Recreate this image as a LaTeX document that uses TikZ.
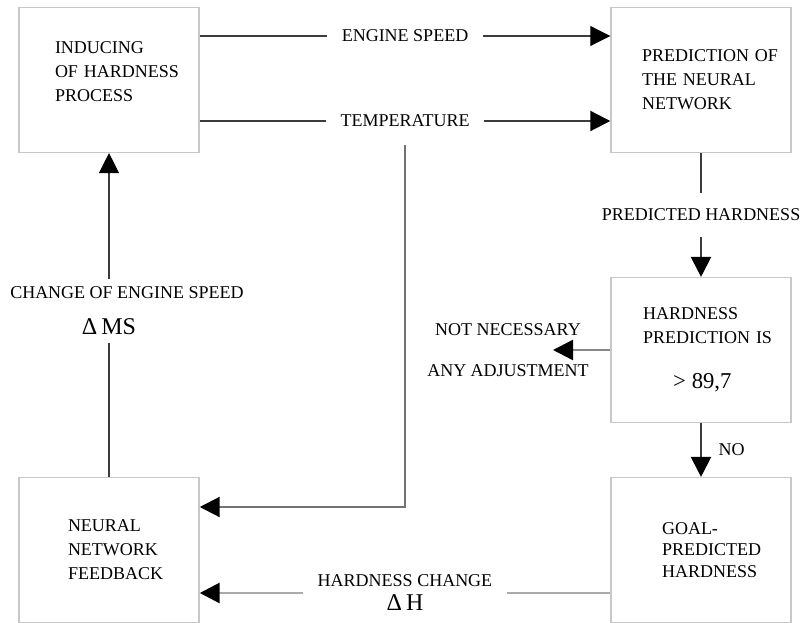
\documentclass[tikz,border=0pt]{standalone}
\usepackage{fontspec}
\setmainfont{Liberation Serif}
\usetikzlibrary{arrows.meta, calc}
\definecolor{boxgray}{RGB}{200,200,200}
\definecolor{darkline}{RGB}{60,60,60}
\definecolor{midline}{RGB}{115,115,115}
\definecolor{paleline}{RGB}{170,170,170}

\newcommand{\bigsym}[1]{{\fontsize{18pt}{18pt}\selectfont #1}}

\begin{document}
\begin{tikzpicture}[
  x=0.75pt, y=-0.75pt,
  font={\fontsize{13.5pt}{18pt}\selectfont},
  box/.style={draw=boxgray, line width=1.1pt, minimum width=135pt,
    minimum height=108.5pt, align=left},
  lbl/.style={fill=white, text=black, inner xsep=11pt, inner ysep=3pt},
  arw/.style={-{Triangle[length=15pt, width=15pt, color=black]}},
  thinln/.style={draw=darkline, line width=0.8pt},
  thickln/.style={draw=darkline, line width=1.6pt},
]
\useasboundingbox (0,0) rectangle (805,623);

% Blocks
\node[box, text width=81pt] (ind) at (109,80) {\mbox{INDUCING}\\\mbox{OF HARDNESS}\\\mbox{PROCESS}\\[-6pt]\mbox{}};
\node[box, text width=88.5pt] (pred) at (701,80) {\mbox{PREDICTION OF}\\\mbox{THE NEURAL}\\\mbox{NETWORK}};
\node[box, text width=87pt] (hp) at (701,350) {\mbox{HARDNESS}\\\mbox{PREDICTION IS}\\[16pt]\hspace*{22.5pt}\mbox{\fontsize{17pt}{18pt}\selectfont > 89,7}};
\node[box, text width=58.5pt] (goal) at (701,550) {\mbox{GOAL-}\\[-2pt]\mbox{PREDICTED}\\[-2pt]\mbox{HARDNESS}};
\node[box, text width=61.5pt] (fb) at (109,550) {\mbox{NEURAL}\\\mbox{NETWORK}\\\mbox{FEEDBACK}};

% Inputs of the network
\draw[arw, thinln] ([yshift=33pt]ind.east) -- node[lbl] (speed) {ENGINE SPEED} ([yshift=33pt]pred.west);
\draw[arw, thickln] ([yshift=-30.75pt]ind.east) -- node[lbl] (temp) {TEMPERATURE} ([yshift=-30.75pt]pred.west);
\draw[arw, midline, line width=1.6pt] ([yshift=-10pt]temp.south) |- ([yshift=32.25pt]fb.east);

% Prediction and decision
\draw[arw, thickln] (pred.south) -- node[lbl, inner ysep=12pt] {PREDICTED HARDNESS} (hp.north);
\coordinate (stop) at (553,350);
\node[align=center] (noadj) at (508,350) {NOT NECESSARY\\[12.75pt]ANY ADJUSTMENT};
\draw[arw, paleline!80!black, line width=1.8pt] (hp.west) -- (stop);
\draw[arw, thickln] (hp.south) -- node[right=9pt, text=black] {NO} (goal.north);

% Feedback loop
\draw[arw, paleline, line width=2.2pt] ([yshift=-32.25pt]goal.west) -- node[lbl, align=center] {HARDNESS CHANGE\\[0pt]\bigsym{Δ\,H}} ([yshift=-32.25pt]fb.east);
\draw[arw, thinln] (fb.north) -- node[lbl, align=center, inner ysep=6pt, xshift=13.5pt, yshift=3pt] {CHANGE OF ENGINE SPEED\\[9pt]\hspace*{-27pt}\bigsym{Δ\,MS}} (ind.south);
\end{tikzpicture}
\end{document}
